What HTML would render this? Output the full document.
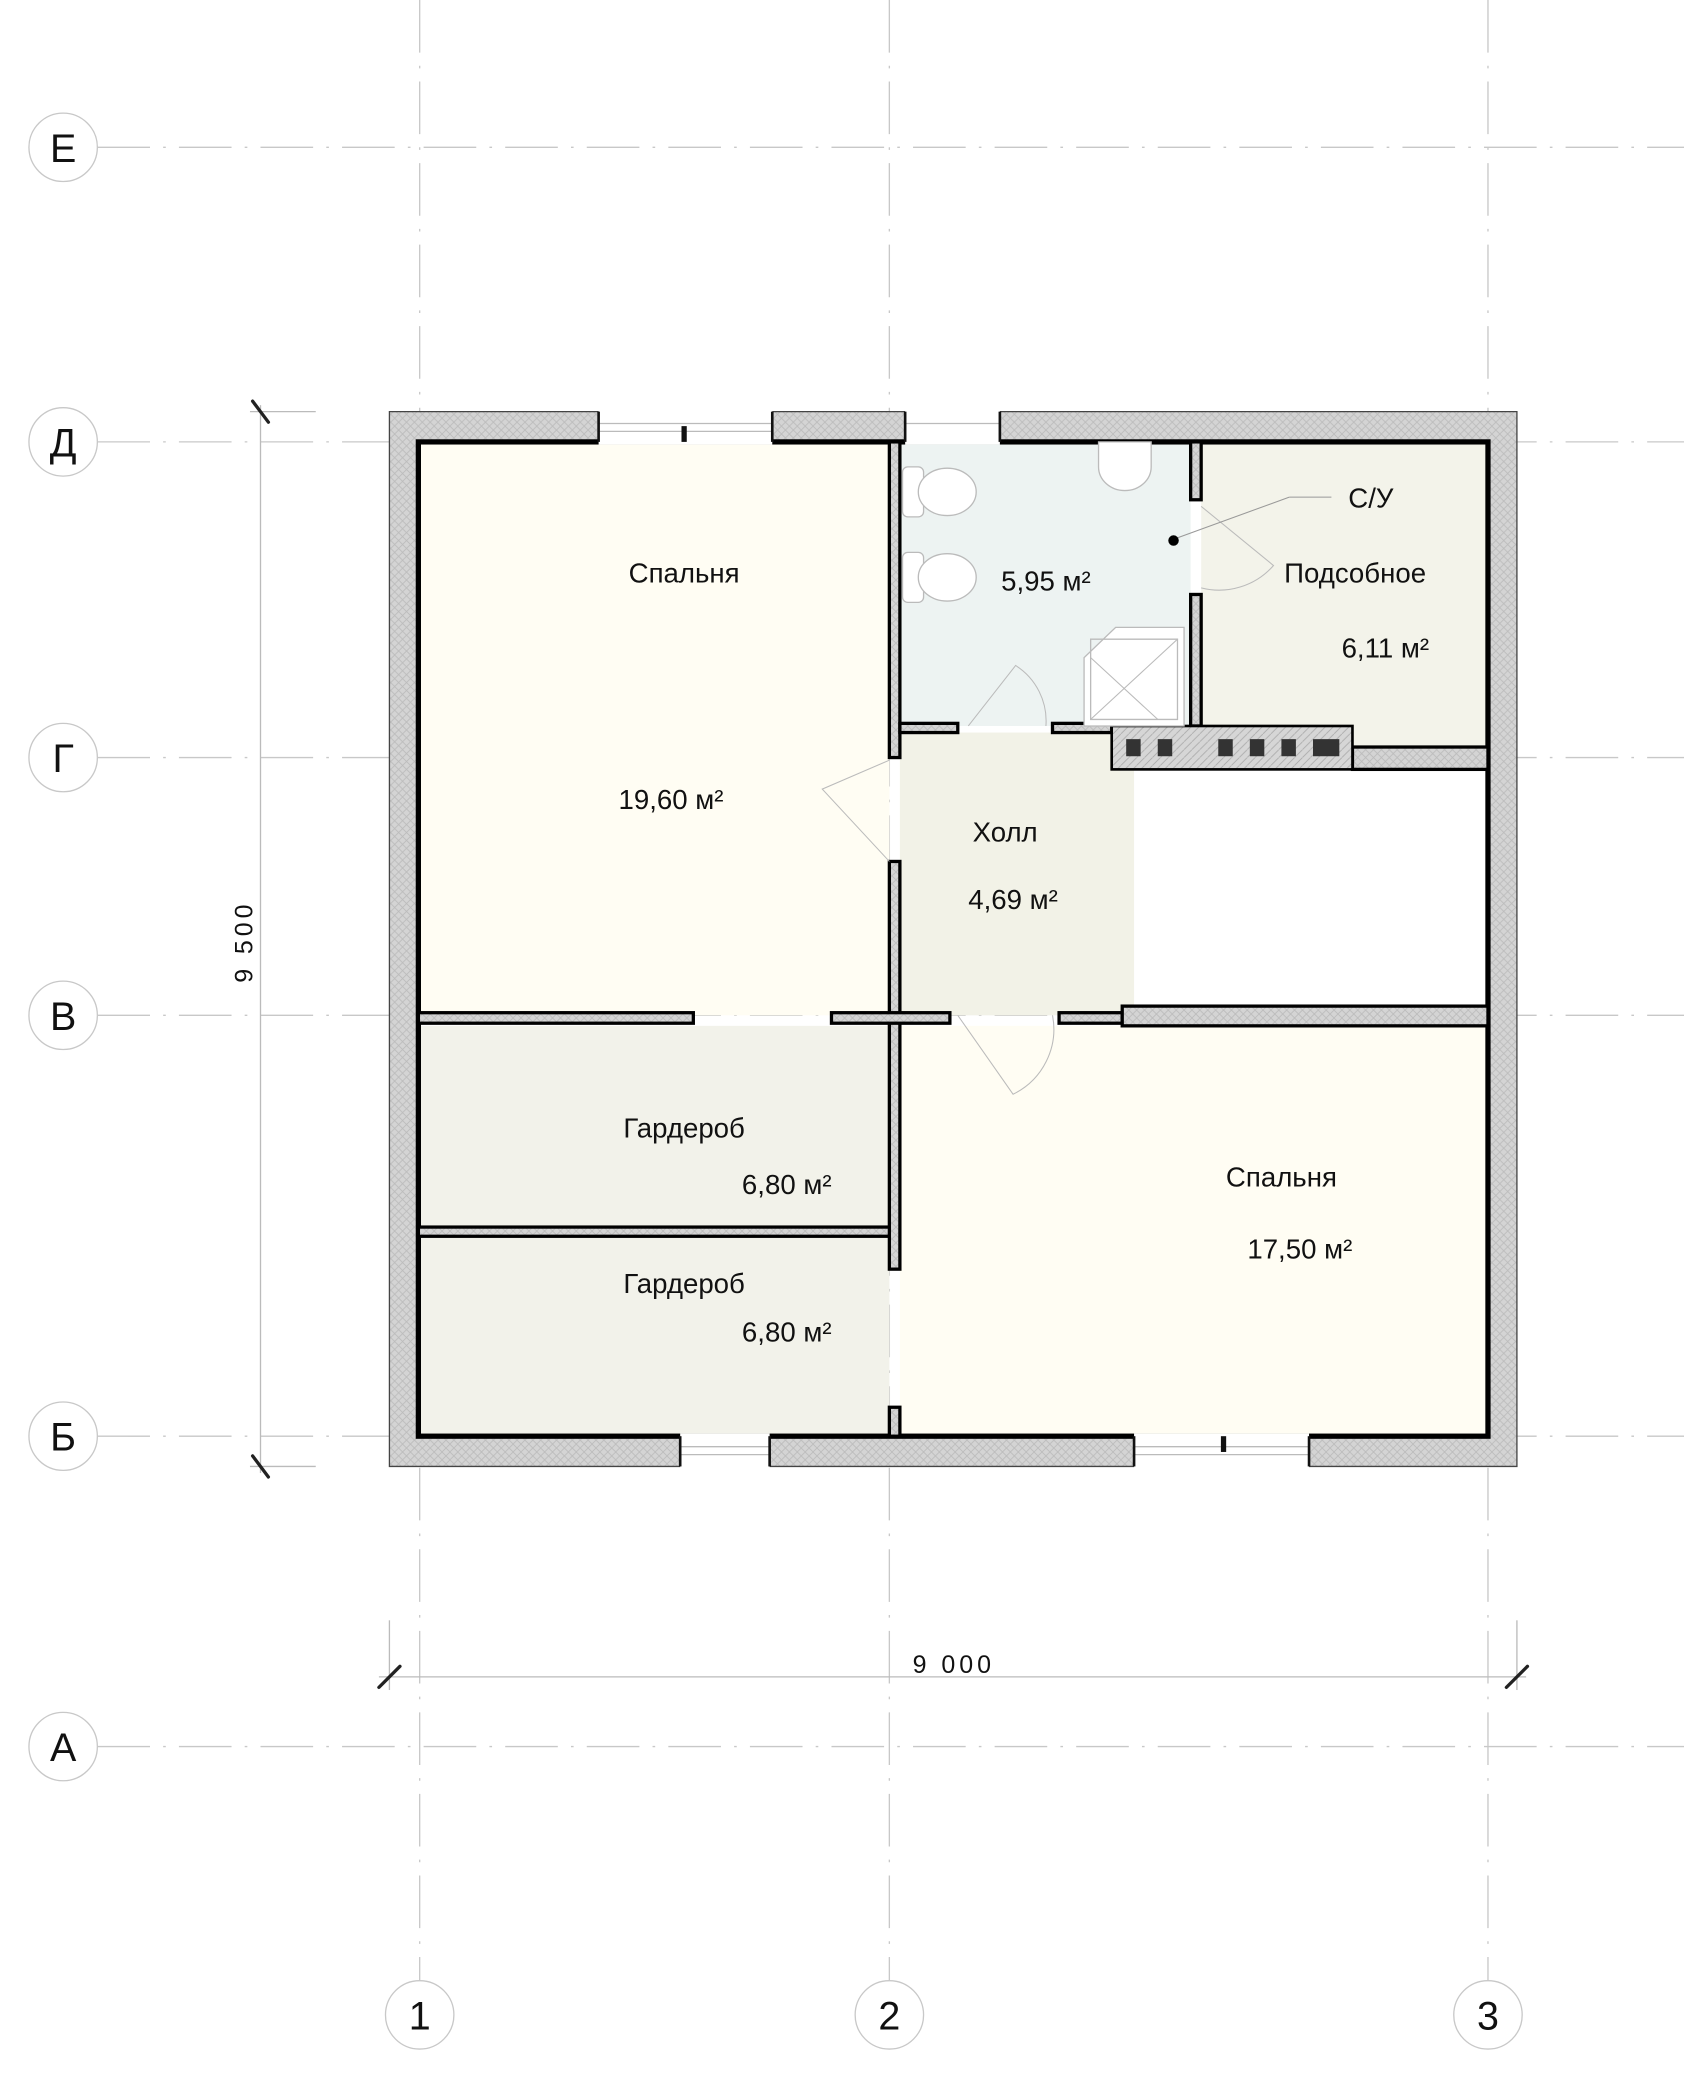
<!DOCTYPE html>
<html><head><meta charset="utf-8"><style>
html,body{margin:0;padding:0;background:#fff}
svg{display:block}
text{font-family:"Liberation Sans",sans-serif;fill:#111}
</style></head><body>
<svg width="1684" height="2078" viewBox="0 0 1280 1580" preserveAspectRatio="none" xmlns="http://www.w3.org/2000/svg">
<defs>
<pattern id="h" width="6" height="6" patternUnits="userSpaceOnUse">
<rect width="6" height="6" fill="#d4d4d4"/>
<path d="M0 0L6 6M6 0L0 6" stroke="#bbb" stroke-width="0.6"/>
</pattern>
<pattern id="d" width="6" height="6" patternUnits="userSpaceOnUse">
<rect width="6" height="6" fill="#d6d6d6"/>
<path d="M0 6L6 0" stroke="#aaa" stroke-width="0.6"/>
</pattern>
</defs>
<g stroke="#c8c8c8" stroke-width="1" stroke-dasharray="40 10 2 10" fill="none">
<line x1="74" y1="112" x2="1280" y2="112"/>
<line x1="74" y1="336" x2="1280" y2="336"/>
<line x1="74" y1="576" x2="1280" y2="576"/>
<line x1="74" y1="772" x2="1280" y2="772"/>
<line x1="74" y1="1092" x2="1280" y2="1092"/>
<line x1="74" y1="1328" x2="1280" y2="1328"/>
<line x1="319" y1="0" x2="319" y2="1506"/>
<line x1="676" y1="0" x2="676" y2="1506"/>
<line x1="1131" y1="0" x2="1131" y2="1506"/>
</g>
<g fill="#fff" stroke="#c8c8c8" stroke-width="1">
<circle cx="48" cy="112" r="26"/><circle cx="48" cy="336" r="26"/><circle cx="48" cy="576" r="26"/>
<circle cx="48" cy="772" r="26"/><circle cx="48" cy="1092" r="26"/><circle cx="48" cy="1328" r="26"/>
<circle cx="319" cy="1532" r="26"/><circle cx="676" cy="1532" r="26"/><circle cx="1131" cy="1532" r="26"/>
</g>
<g font-size="30" text-anchor="middle">
<text x="48" y="123">Е</text><text x="48" y="347">Д</text><text x="48" y="587">Г</text>
<text x="48" y="783">В</text><text x="48" y="1103">Б</text><text x="48" y="1339">А</text>
<text x="319" y="1543">1</text><text x="676" y="1543">2</text><text x="1131" y="1543">3</text>
</g>
<g stroke="#bbb" stroke-width="1">
<line x1="198" y1="308" x2="198" y2="1120"/>
<line x1="190" y1="313" x2="240" y2="313"/><line x1="190" y1="1115" x2="240" y2="1115"/>
<line x1="288" y1="1275" x2="1160" y2="1275"/>
<line x1="296" y1="1232" x2="296" y2="1285"/><line x1="1153" y1="1232" x2="1153" y2="1285"/>
</g>
<g stroke="#222" stroke-width="2.5" stroke-linecap="round">
<line x1="192" y1="305" x2="204" y2="321"/><line x1="192" y1="1107" x2="204" y2="1123"/>
<line x1="288" y1="1283" x2="304" y2="1267"/><line x1="1145" y1="1283" x2="1161" y2="1267"/>
</g>
<text x="725" y="1272" font-size="19" text-anchor="middle" letter-spacing="3">9 000</text>
<text x="0" y="0" font-size="19" text-anchor="middle" letter-spacing="3" transform="translate(192,716) rotate(-90)">9 500</text>
<rect x="318" y="336" width="358" height="436" fill="#fffdf3"/>
<rect x="684" y="336" width="221" height="216" fill="#edf3f2"/>
<rect x="913" y="336" width="218" height="232" fill="#f3f3ea"/>
<rect x="684" y="557" width="178" height="215" fill="#f2f2e7"/>
<rect x="318" y="780" width="358" height="153" fill="#f2f2ea"/>
<rect x="318" y="940" width="358" height="152" fill="#f2f2ea"/>
<rect x="684" y="780" width="447" height="312" fill="#fffdf3"/>
<path d="M296 313H1153V1115H296Z M318 336V1092H1131V336Z" fill="url(#h)" fill-rule="evenodd" stroke="#444" stroke-width="1"/>
<rect x="318" y="336" width="813" height="756" fill="none" stroke="#000" stroke-width="4"/>
<rect x="455" y="312" width="132" height="26" fill="#fff"/>
<line x1="455" y1="322" x2="587" y2="322" stroke="#bbb"/><line x1="455" y1="328" x2="587" y2="328" stroke="#bbb"/>
<rect x="518" y="324" width="4" height="12" fill="#111"/>
<rect x="688" y="312" width="72" height="26" fill="#fff"/>
<line x1="688" y1="322" x2="760" y2="322" stroke="#bbb"/>
<rect x="517" y="1090" width="68" height="26" fill="#fff"/>
<line x1="517" y1="1100" x2="585" y2="1100" stroke="#bbb"/><line x1="517" y1="1106" x2="585" y2="1106" stroke="#bbb"/>
<rect x="862" y="1090" width="133" height="26" fill="#fff"/>
<line x1="862" y1="1100" x2="995" y2="1100" stroke="#bbb"/><line x1="862" y1="1106" x2="995" y2="1106" stroke="#bbb"/>
<rect x="928" y="1092" width="4" height="12" fill="#111"/>
<g stroke="#111" stroke-width="2">
<line x1="455" y1="313" x2="455" y2="336"/><line x1="587" y1="313" x2="587" y2="336"/>
<line x1="688" y1="313" x2="688" y2="336"/><line x1="760" y1="313" x2="760" y2="336"/>
<line x1="517" y1="1092" x2="517" y2="1115"/><line x1="585" y1="1092" x2="585" y2="1115"/>
<line x1="862" y1="1092" x2="862" y2="1115"/><line x1="995" y1="1092" x2="995" y2="1115"/>
</g>
<g fill="url(#h)" stroke="#000" stroke-width="2.5">
<rect x="676" y="336" width="8" height="240"/>
<rect x="676" y="655" width="8" height="310"/>
<rect x="676" y="1070" width="8" height="22"/>
<rect x="318" y="770" width="209" height="8"/>
<rect x="632" y="770" width="90" height="8"/>
<rect x="805" y="770" width="48" height="8"/>
<rect x="853" y="765" width="278" height="15"/>
<rect x="318" y="933" width="358" height="7"/>
<rect x="684" y="550" width="44" height="7"/>
<rect x="800" y="550" width="45" height="7"/>
<rect x="905" y="336" width="8" height="44"/>
<rect x="905" y="452" width="8" height="100"/>
<rect x="1028" y="568" width="103" height="17"/>
</g>
<rect x="845" y="552" width="183" height="33" fill="url(#d)" stroke="#000" stroke-width="2"/>
<g fill="#333">
<rect x="856" y="562" width="11" height="13"/><rect x="880" y="562" width="11" height="13"/>
<rect x="926" y="562" width="11" height="13"/><rect x="950" y="562" width="11" height="13"/>
<rect x="974" y="562" width="11" height="13"/><rect x="998" y="562" width="20" height="13"/>
</g>
<g fill="#fff" stroke="#bbb" stroke-width="1">
<rect x="686" y="355" width="16" height="38" rx="4"/><ellipse cx="720" cy="374" rx="22" ry="18"/>
<rect x="686" y="420" width="16" height="38" rx="4"/><ellipse cx="720" cy="439" rx="22" ry="18"/>
<path d="M835 336 V355 A20 18 0 0 0 875 355 V336Z"/>
<path d="M848 477 H900 V552 H824 V500Z"/>
<path d="M829 486 H895 V547 H829Z" fill="none"/>
</g>
<g stroke="#bbb" stroke-width="0.8" fill="none">
<line x1="829" y1="547" x2="895" y2="486"/><line x1="829" y1="500" x2="880" y2="547"/>
<path d="M736 552 L772 506 A50 50 0 0 1 795 552"/>
<path d="M676 578 L625 600 L676 655"/>
<path d="M728 772 L770 832 A55 55 0 0 0 800 772"/>
<path d="M913 385 L968 430 A55 55 0 0 1 913 447"/>
<line x1="892" y1="410" x2="980" y2="378" stroke="#999"/>
<line x1="980" y1="378" x2="1012" y2="378" stroke="#999"/>
</g>
<circle cx="892" cy="411" r="4" fill="#000"/>
<g font-size="21" text-anchor="middle">
<text x="520" y="443">Спальня</text>
<text x="510" y="615">19,60 м²</text>
<text x="795" y="449">5,95 м²</text>
<text x="1042" y="386">С/У</text>
<text x="1030" y="443">Подсобное</text>
<text x="1053" y="500">6,11 м²</text>
<text x="764" y="640">Холл</text>
<text x="770" y="691">4,69 м²</text>
<text x="520" y="865">Гардероб</text>
<text x="598" y="908">6,80 м²</text>
<text x="520" y="983">Гардероб</text>
<text x="598" y="1020">6,80 м²</text>
<text x="974" y="902">Спальня</text>
<text x="988" y="957">17,50 м²</text>
</g>
</svg>
</body></html>
